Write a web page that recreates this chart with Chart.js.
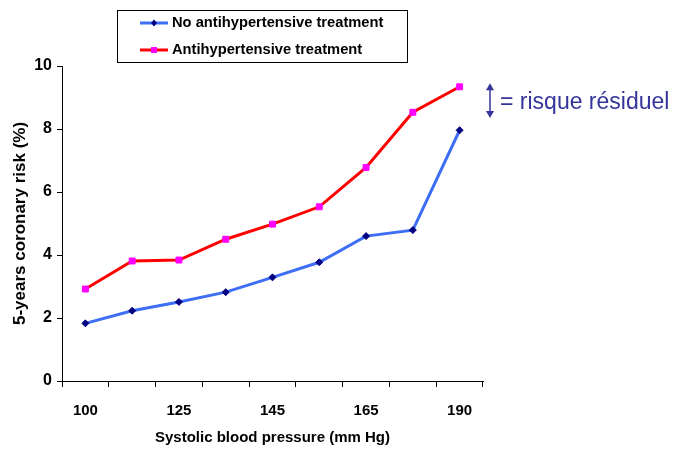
<!DOCTYPE html>
<html>
<head>
<meta charset="utf-8">
<script src="https://cdn.jsdelivr.net/npm/chart.js@4/dist/chart.umd.min.js"></script>
<style>
  html, body { margin: 0; padding: 0; background: #ffffff; }
  #wrap { width: 680px; height: 457px; position: relative; }
</style>
</head>
<body>
<div id="wrap"><canvas id="c" width="680" height="457"></canvas></div>
<script>
// Systolic blood pressure classes (only every other class is labelled)
const sbpLabels = ['100', '', '125', '', '145', '', '165', '', '190'];
// 5-year coronary risk (%)
const riskUntreated = [1.83, 2.23, 2.51, 2.82, 3.29, 3.77, 4.60, 4.79, 7.96];
const riskTreated   = [2.92, 3.81, 3.84, 4.50, 4.98, 5.53, 6.78, 8.53, 9.34];
const seriesNames = ['No antihypertensive treatment', 'Antihypertensive treatment'];
const yTicks = [0, 2, 4, 6, 8, 10];
// span of the residual-risk arrow on the risk axis
const residualSpan = [9.45, 8.35];
const residualText = '= risque résiduel';

const FONT = '"Liberation Sans", Arial, sans-serif';
const ARROW_COLOR = '#34349a';

// Boxed legend drawn at the top
const boxLegend = {
  id: 'boxLegend',
  afterDraw(chart) {
    const ctx = chart.ctx;
    const x0 = 117, y0 = 10, w = 290, h = 52;
    ctx.save();
    ctx.strokeStyle = '#000';
    ctx.lineWidth = 1;
    ctx.strokeRect(x0 + 0.5, y0 + 0.5, w, h);
    chart.data.datasets.forEach((ds, i) => {
      const y = y0 + 13 + i * 27;
      ctx.strokeStyle = ds.borderColor;
      ctx.lineWidth = 3;
      ctx.beginPath();
      ctx.moveTo(140, y);
      ctx.lineTo(168, y);
      ctx.stroke();
      ctx.fillStyle = ds.pointBackgroundColor;
      ctx.beginPath();
      if (ds.pointStyle === 'rect') {
        const s = Math.SQRT1_2 * ds.pointRadius;
        ctx.rect(154 - s, y - s, 2 * s, 2 * s);
      } else {
        const r = ds.pointRadius;
        ctx.moveTo(154, y - r); ctx.lineTo(154 + r * 0.85, y);
        ctx.lineTo(154, y + r); ctx.lineTo(154 - r * 0.85, y); ctx.closePath();
      }
      ctx.fill();
      ctx.fillStyle = '#000';
      ctx.font = 'bold 14.7px ' + FONT;
      ctx.textAlign = 'left';
      ctx.textBaseline = 'middle';
      ctx.fillText(ds.label, 172, y);
    });
    ctx.restore();
  }
};

// Double arrow with its caption to the right of the plot
const residualNote = {
  id: 'residualNote',
  afterDraw(chart) {
    const ctx = chart.ctx;
    const ys = chart.scales.y;
    const x = chart.chartArea.right + 7;
    const yTop = ys.getPixelForValue(residualSpan[0]);
    const yBot = ys.getPixelForValue(residualSpan[1]);
    ctx.save();
    ctx.strokeStyle = ARROW_COLOR;
    ctx.fillStyle = ARROW_COLOR;
    ctx.lineWidth = 1.5;
    ctx.beginPath();
    ctx.moveTo(x, yTop + 5);
    ctx.lineTo(x, yBot - 5);
    ctx.stroke();
    ctx.beginPath();
    ctx.moveTo(x, yTop); ctx.lineTo(x - 4, yTop + 7); ctx.lineTo(x + 4, yTop + 7); ctx.closePath();
    ctx.fill();
    ctx.beginPath();
    ctx.moveTo(x, yBot); ctx.lineTo(x - 4, yBot - 7); ctx.lineTo(x + 4, yBot - 7); ctx.closePath();
    ctx.fill();
    ctx.font = '23px ' + FONT;
    ctx.textAlign = 'left';
    ctx.textBaseline = 'middle';
    ctx.fillText(residualText, x + 10, (yTop + yBot) / 2 + 2);
    ctx.restore();
  }
};

new Chart(document.getElementById('c'), {
  type: 'line',
  data: {
    labels: sbpLabels,
    datasets: [
      {
        label: seriesNames[0],
        data: riskUntreated,
        borderColor: '#3d6ef5',
        borderWidth: 3,
        pointStyle: 'rectRot',
        pointRadius: 3.5,
        pointBackgroundColor: '#000080',
        pointBorderColor: '#000080',
        pointBorderWidth: 1,
        tension: 0
      },
      {
        label: seriesNames[1],
        data: riskTreated,
        borderColor: '#ff0000',
        borderWidth: 3,
        pointStyle: 'rect',
        pointRadius: 4.2,
        pointBackgroundColor: '#ff00ff',
        pointBorderColor: '#ff00ff',
        pointBorderWidth: 1,
        tension: 0
      }
    ]
  },
  options: {
    responsive: false,
    animation: false,
    layout: { padding: { left: 0, right: 197, top: 66, bottom: 0 } },
    plugins: {
      legend: { display: false },
      tooltip: { enabled: false }
    },
    scales: {
      x: {
        offset: true,
        grid: {
          display: true,
          drawOnChartArea: false,
          drawTicks: true,
          tickLength: 6,
          offset: true,
          color: '#000'
        },
        border: { color: '#000', width: 1 },
        ticks: {
          autoSkip: false,
          maxRotation: 0,
          color: '#000',
          padding: 15,
          font: { family: FONT, size: 15, weight: 'bold' }
        },
        title: {
          display: true,
          text: 'Systolic blood pressure (mm Hg)',
          color: '#000',
          font: { family: FONT, size: 15, weight: 'bold' },
          padding: { top: 0, bottom: 10 }
        },
        afterFit(scale) { scale.height = 76; }
      },
      y: {
        min: 0,
        max: 10,
        afterBuildTicks(scale) { scale.ticks = yTicks.map(v => ({ value: v })); },
        grid: {
          display: true,
          drawOnChartArea: false,
          drawTicks: true,
          tickLength: 5,
          color: '#000'
        },
        border: { color: '#000', width: 1 },
        ticks: {
          color: '#000',
          padding: 5,
          font: { family: FONT, size: 16, weight: 'bold' }
        },
        title: {
          display: true,
          text: '5-years coronary risk (%)',
          color: '#000',
          font: { family: FONT, size: 17, weight: 'bold' },
          padding: { top: 10, bottom: 0 }
        },
        afterFit(scale) { scale.width = 62; }
      }
    }
  },
  plugins: [boxLegend, residualNote]
});
</script>
</body>
</html>
